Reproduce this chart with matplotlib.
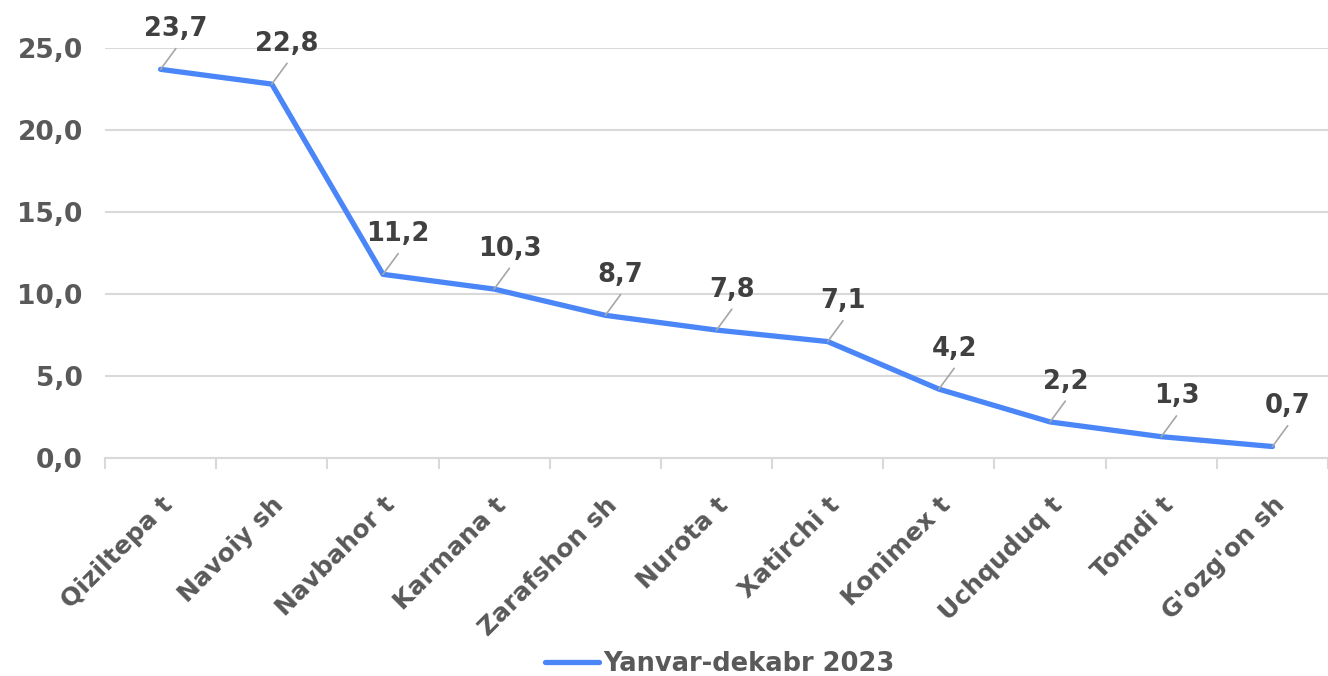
import matplotlib.pyplot as plt
from matplotlib.ticker import FixedLocator

categories = ["Qiziltepa t", "Navoiy sh", "Navbahor t", "Karmana t", "Zarafshon sh",
              "Nurota t", "Xatirchi t", "Konimex t", "Uchquduq t", "Tomdi t", "G'ozg'on sh"]
values = [23.7, 22.8, 11.2, 10.3, 8.7, 7.8, 7.1, 4.2, 2.2, 1.3, 0.7]
series_name = "Yanvar-dekabr 2023"
yticks = [0, 5, 10, 15, 20, 25]

plt.rcParams['font.family'] = ['DejaVu Sans']
plt.rcParams['font.weight'] = 'bold'


def fmt(v):
    return f"{v:.1f}".replace(".", ",")


fig = plt.figure(figsize=(13.28, 6.76), dpi=100)
ax = fig.add_axes([105 / 1328, (676 - 458) / 676, 1 - 105 / 1328, 410 / 676])

x = list(range(len(categories)))
ax.plot(x, values, color="#4a86f7", lw=3.8, solid_capstyle="round",
        solid_joinstyle="round", label=series_name, zorder=3)

for xi, v in zip(x, values):
    ax.annotate(fmt(v), xy=(xi, v), xytext=(11, 29), textcoords="offset points",
                ha="center", va="center", fontsize=18.5, fontweight="bold",
                color="#404040", annotation_clip=False,
                arrowprops=dict(arrowstyle="-", color="#a6a6a6", lw=1.2,
                                relpos=(0.5, -0.25), shrinkA=0, shrinkB=0))

ax.set_xlim(-0.5, len(categories) - 0.5)
ax.set_ylim(0, 25)
ax.set_yticks(yticks)
ax.set_yticklabels([fmt(t) for t in yticks], fontsize=19, color="#595959")
ax.set_xticks(x)
ax.set_xticklabels(categories, rotation=45, ha="right", va="top",
                   rotation_mode="anchor", fontsize=18, color="#595959")
ax.xaxis.set_minor_locator(FixedLocator([i - 0.5 for i in range(len(categories) + 1)]))
ax.tick_params(axis="x", which="major", length=0, pad=25)
ax.tick_params(axis="x", which="minor", length=8, color="#d9d9d9", width=1.5)
ax.tick_params(axis="y", length=0, pad=16)

ax.grid(axis="y", color="#d9d9d9", lw=1.5)
ax.set_axisbelow(True)
for s in ["top", "right", "left"]:
    ax.spines[s].set_visible(False)
ax.spines["bottom"].set_color("#d9d9d9")
ax.spines["bottom"].set_linewidth(1.5)

fig.legend(loc="lower center", bbox_to_anchor=(0.542, -0.035), frameon=False,
           fontsize=18.5, handlelength=2.1, handletextpad=0.15,
           labelcolor="#595959")

fig.savefig("out.png", dpi=100)
